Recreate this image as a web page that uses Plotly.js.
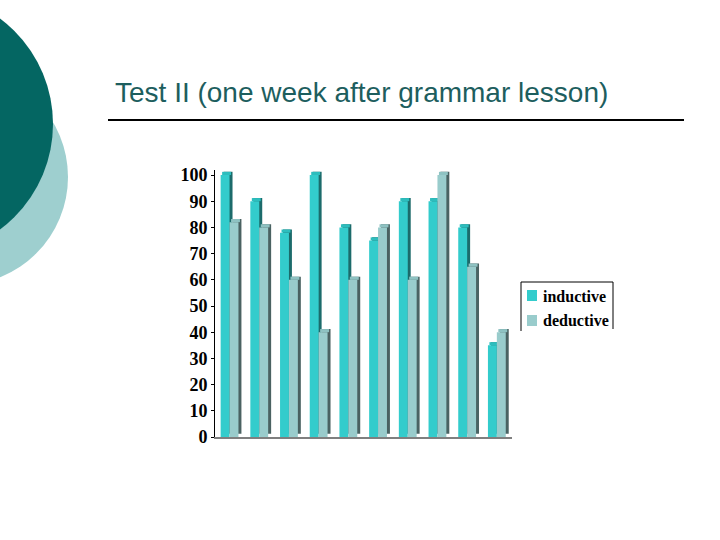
<!DOCTYPE html>
<html>
<head>
<meta charset="utf-8">
<script src="https://cdn.plot.ly/plotly-3.0.1.min.js"></script>
<style>html,body{margin:0;padding:0;background:#fff;}#chart{width:720px;height:540px;}</style>
</head>
<body>
<div id="chart"></div>
<script>
// Data
var categories = ['1','2','3','4','5','6','7','8','9','10'];
var inductive = [100, 90, 78, 100, 80, 75, 90, 90, 80, 35];
var deductive = [82, 80, 60, 40, 60, 80, 60, 100, 65, 40];
var seriesNames = ['inductive', 'deductive'];
var titleText = 'Test II (one week after grammar lesson)';

// style constants
var barW = 0.3, depthX = 0.1, depthY = 1.2;
var serif = 'Liberation Serif, Times New Roman, serif';
var frontColors = ['#33CCCC', '#99CCCC'];
var topColors = ['#2dbdbd', '#8ec2c2'];
var sideColors = ['#1c6b6b', '#4a6262'];
var offsets = [-0.31, -0.01];

function side(vals, i) {
  return {type:'bar', x:categories, y:vals, base:depthY, width:barW, offset:offsets[i]+depthX,
    marker:{color:sideColors[i]}, showlegend:false, hoverinfo:'skip'};
}
function topFace(vals, i) {
  return {type:'bar', x:categories, y:vals.map(function(){return depthY;}), base:vals, width:barW,
    offset:offsets[i]+depthX/2, marker:{color:topColors[i]}, showlegend:false, hoverinfo:'skip'};
}
function front(vals, i) {
  return {type:'bar', x:categories, y:vals, width:barW, offset:offsets[i], name:seriesNames[i],
    marker:{color:frontColors[i]}, showlegend:false};
}

var data = [
  side(inductive, 0), topFace(inductive, 0), front(inductive, 0),
  side(deductive, 1), topFace(deductive, 1), front(deductive, 1)
];

var L = 215, W = 297, B = 437, H = 267;
var yMax = 100 * H / 262;
function px(x){ return (x - L) / W; }
function py(y){ return (B - y) / H; }

var annotations = [
  {xref:'paper', yref:'paper', x:px(113), y:py(93), xanchor:'left', yanchor:'middle', showarrow:false,
    text:titleText, font:{family:'Liberation Sans, Arial, sans-serif', size:28, color:'#1d5e5e'}},
  {xref:'paper', yref:'paper', x:px(541), y:py(296), xanchor:'left', yanchor:'middle', showarrow:false,
    text:seriesNames[0], font:{family:serif, size:16, color:'#000', weight:'bold'}},
  {xref:'paper', yref:'paper', x:px(541), y:py(320), xanchor:'left', yanchor:'middle', showarrow:false,
    text:seriesNames[1], font:{family:serif, size:16, color:'#000', weight:'bold'}}
];

var layout = {
  width:720, height:540,
  margin:{l:L, r:720-L-W, t:B-H, b:540-B},
  paper_bgcolor:'#fff', plot_bgcolor:'rgba(0,0,0,0)',
  barmode:'overlay',
  showlegend:false,
  xaxis:{type:'category', range:[-0.5, 9.5], showticklabels:false, ticks:'',
    showline:true, linecolor:'#7f7f7f', linewidth:2, showgrid:false, zeroline:false, fixedrange:true},
  yaxis:{range:[0, yMax], tick0:0, dtick:10, showline:true, linecolor:'#000', linewidth:1,
    ticks:'outside', ticklen:3, tickcolor:'#000', showgrid:false, zeroline:false,
    tickfont:{family:serif, size:18, color:'#000', weight:'bold'}},
  annotations:annotations,
  shapes:[
    {type:'circle', xref:'paper', yref:'paper', x0:px(-148), x1:px(68), y0:py(285), y1:py(69),
      fillcolor:'#9ecfcf', line:{width:0}, layer:'below'},
    {type:'circle', xref:'paper', yref:'paper', x0:px(-212), x1:px(53), y0:py(256), y1:py(-8),
      fillcolor:'#046662', line:{width:0}, layer:'below'},
    {type:'line', xref:'paper', yref:'paper', x0:px(108), x1:px(684), y0:py(120), y1:py(120),
      line:{color:'#000', width:2}},
    // legend frame (open at the bottom, as in the reference)
    {type:'path', xref:'paper', yref:'paper',
      path:'M '+px(521)+' '+py(331)+' L '+px(521)+' '+py(282)+' L '+px(613)+' '+py(282)+' L '+px(613)+' '+py(329),
      line:{color:'#000', width:1}},
    // legend swatches
    {type:'rect', xref:'paper', yref:'paper', x0:px(527), x1:px(537), y0:py(301), y1:py(290),
      fillcolor:frontColors[0], line:{width:0}},
    {type:'rect', xref:'paper', yref:'paper', x0:px(527), x1:px(537), y0:py(326), y1:py(315),
      fillcolor:frontColors[1], line:{width:0}}
  ]
};

Plotly.newPlot('chart', data, layout, {displayModeBar:false, staticPlot:true});
</script>
</body>
</html>
